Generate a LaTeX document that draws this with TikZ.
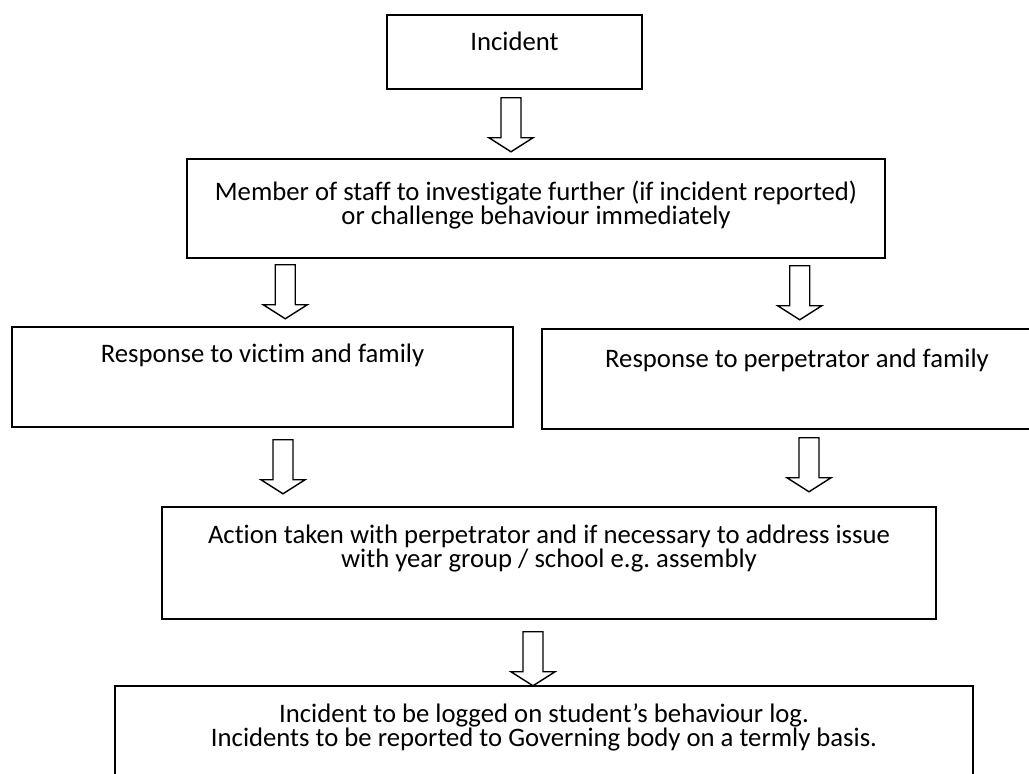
\documentclass[tikz,border=0pt]{standalone}
\usepackage{fontspec}
\setmainfont{Carlito}[Ligatures=NoCommon]
\usetikzlibrary{positioning}
\usetikzlibrary{calc}

\begin{document}
\begin{tikzpicture}[x=0.02cm, y=-0.02cm]
    \tikzstyle{box} = [draw, line width=0.9pt, inner sep=0, rectangle]
    \tikzstyle{txt} = [inner sep=0, align=center, font=\fontsize{15.2}{13.8}\selectfont]
    \tikzstyle{hollow} = [draw, line width=0.8pt, fill=white, line join=miter]
    \tikzset{pics/downarrow/.style={code={
        \draw[hollow] (-10,0) -- (10,0) -- (10,40) -- (22,40) -- (0,54) -- (-22,40) -- (-10,40) -- cycle;}}}
    \useasboundingbox (0,0) rectangle (1029,774);
    \fill[white] (0,0) rectangle (1029,774);
    \clip (0,0) rectangle (1029,774);
    % boxes
    \node[box, minimum width=5.1cm, minimum height=1.48cm] (incident) at (514.5,52) {};
    \node[box, minimum width=13.96cm, minimum height=1.98cm] (staff) at (536,208.5) {};
    \node[box, minimum width=10.02cm, minimum height=2cm] (victim) at (262.5,377) {};
    \node[box, minimum width=10.2cm, minimum height=2cm] (perp) at (797,379) {};
    \node[box, minimum width=15.48cm, minimum height=2.24cm] (action) at (549,563) {};
    \node[box, minimum width=17.16cm, minimum height=2.4cm] (logbox) at (544,746) {};
    % texts
    \node[txt, below=0.34cm of incident.north] (incidenttxt) {Incident};
    \node[txt, below=0.44cm of staff.north] (stafftxt) {Member of staff to investigate further (if incident reported)\\ or challenge behaviour immediately};
    \node[txt, below=0.34cm of victim.north] (victimtxt) {Response to victim and family};
    \node[txt, below=0.4cm of perp.north] (perptxt) {Response to perpetrator and family};
    \node[txt, below=0.36cm of action.north] (actiontxt) {Action taken with perpetrator and if necessary to address issue\\ with year group / school e.g.\ assembly};
    \node[txt, below=0.36cm of logbox.north] (logtxt) {Incident to be logged on student’s behaviour log.\\ Incidents to be reported to Governing body on a termly basis.};
    % arrows
    \pic at ($(incident.south)+(-3.5,8)$) {downarrow};
    \pic at ($(staff.south west)+(99,6)$) {downarrow};
    \pic at ($(staff.south east)+(-86,7)$) {downarrow};
    \pic at ($(victim.south)+(20.5,12)$) {downarrow};
    \pic at ($(perp.south)+(12,8)$) {downarrow};
    \pic at ($(action.south)+(-16,12)$) {downarrow};
\end{tikzpicture}
\end{document}
